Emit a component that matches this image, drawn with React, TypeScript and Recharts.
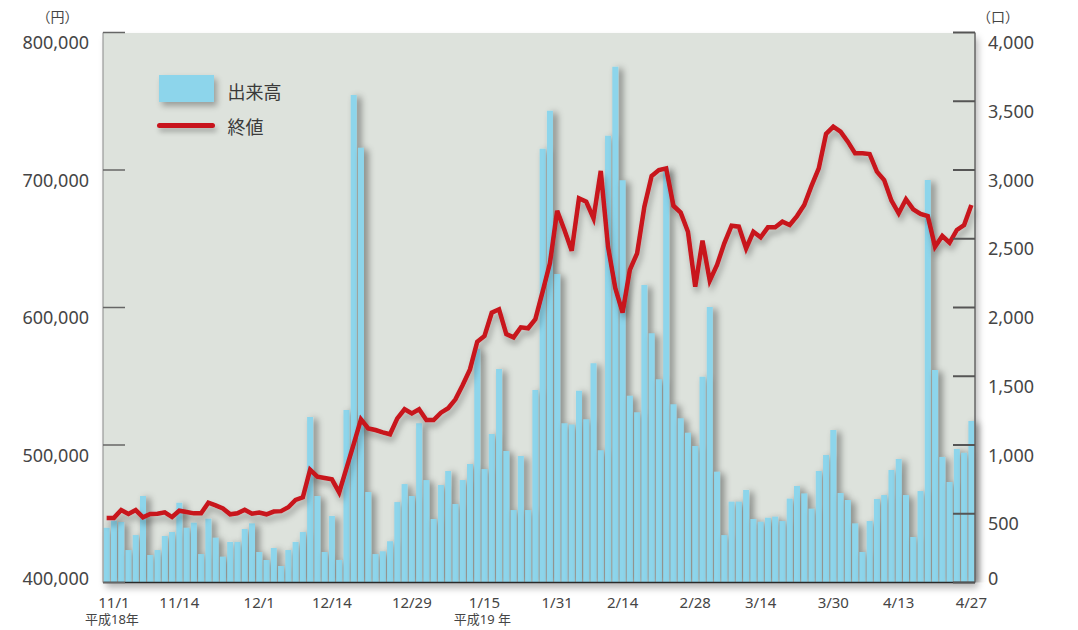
import React from 'react';
import { ComposedChart, Bar, Line, XAxis, YAxis } from 'recharts';

// 出来高（口） per trading day
const volume = [
  398, 449, 440, 236, 345, 629, 200, 236, 338, 367,
  580, 398, 435, 207, 464, 326, 188, 295, 295, 389,
  430, 222, 164, 251, 120, 236, 295, 367, 1204, 629,
  222, 484, 164, 1255, 3545, 3162, 658, 207, 227, 300,
  585, 716, 629, 1158, 745, 462, 709, 811, 571, 745,
  862, 1698, 825, 1080, 1553, 956, 527, 920, 527, 1400,
  3155, 3431, 2244, 1158, 1150, 1395, 1187, 1594, 961, 3250,
  3751, 2925, 1359, 1238, 2164, 1812, 1478, 3019, 1296, 1194,
  1090, 993, 1497, 2004, 806, 345, 588, 588, 673, 462,
  442, 471, 479, 447, 610, 702, 648, 537, 811, 927,
  1109, 651, 600, 430, 222, 447, 607, 636, 818, 898,
  636, 331, 665, 2927, 1545, 913, 731, 971, 944, 1175,
];

// 終値（円） per trading day
const closePrice = [
  447000, 447000, 452700, 449800, 452700, 447400, 449800, 450000, 451000, 447600,
  452200, 451300, 450300, 450300, 458000, 456100, 453900, 449600, 450300, 452900,
  450000, 450800, 449600, 451600, 451900, 454700, 460000, 462000, 482000, 477000,
  476000, 475000, 465500, 483000, 500700, 518700, 512100, 510900, 509200, 507800,
  519400, 526000, 523000, 526000, 518200, 518200, 523500, 526700, 533200, 543600,
  555000, 575100, 579300, 596200, 598700, 580700, 578300, 585600, 584900, 591500,
  611500, 632100, 670400, 656400, 641300, 679400, 676900, 664900, 699300, 644200,
  614000, 596200, 627300, 639400, 673300, 695600, 700000, 701200, 674000, 669000,
  655100, 615100, 648600, 619500, 630900, 646700, 659500, 658800, 643000, 655100,
  651100, 658300, 658300, 662400, 660000, 666500, 674500, 688400, 701200, 726200,
  731500, 727900, 720600, 712100, 712100, 711600, 698800, 692700, 677700, 668500,
  678700, 671400, 668000, 666500, 644200, 652000, 647100, 656400, 660000, 674500,
];

// date labels on the horizontal axis and the trading day each one sits under
const dateLabels = ['11/1', '11/14', '12/1', '12/14', '12/29', '1/15', '1/31', '2/14', '2/28', '3/14', '3/30', '4/13', '4/27'];
const dateLabelDay = [1, 10, 21, 31, 42, 52, 62, 71, 81, 90, 100, 109, 119];
const eraLabels = ['平成18年', '平成19 年'];
const eraLabelDay = [1, 52];

const priceTicks = [400000, 500000, 600000, 700000, 800000];
const volumeTicks = [0, 500, 1000, 1500, 2000, 2500, 3000, 3500, 4000];

const rows = volume.map((v, i) => ({ day: i, volume: v, close: closePrice[i] }));

const W = 1070;
const H = 622;
const M = { top: 24.5, right: 15, bottom: 17.5, left: 15 };
const LEFT_W = 80;
const RIGHT_W = 88;
const X_H = 30;
const PLOT = {
  left: M.left + LEFT_W,
  top: M.top,
  width: W - M.left - M.right - LEFT_W - RIGHT_W,
  height: H - M.top - M.bottom - X_H,
};

const FONT = "'Noto Sans', 'Noto Sans CJK JP', sans-serif";
const TEXT = '#454545';
const BAR = '#8dd5eb';
const RED = '#c8141d';
const PLOT_BG = '#dde2dc';

const fmt = (v: number) => v.toLocaleString('en-US');

// value labels sit just under their tick; the lowest one is lifted to stay beside the axis
const labelShift = (value: number, lowest: number) => (value === lowest ? -4.5 : 9.5);

const LeftTick = (p: any) => (
  <text x={p.x} y={p.y + labelShift(p.payload.value, priceTicks[0])} textAnchor="end"
    dominantBaseline="central" fontFamily={FONT} fontSize={18} fill={TEXT}>
    {fmt(p.payload.value)}
  </text>
);

const RightTick = (p: any) => (
  <text x={p.x} y={p.y + labelShift(p.payload.value, volumeTicks[0])} textAnchor="start"
    dominantBaseline="central" fontFamily={FONT} fontSize={18} fill={TEXT}>
    {fmt(p.payload.value)}
  </text>
);

const DateTick = (p: any) => {
  const k = dateLabelDay.indexOf(p.payload.value);
  const e = eraLabelDay.indexOf(p.payload.value);
  if (k < 0) return <g />;
  return (
    <g>
      <text x={p.x} y={p.y + 19} textAnchor="middle" dominantBaseline="central"
        fontFamily={FONT} fontSize={15} fill={TEXT}>
        {dateLabels[k]}
      </text>
      {e >= 0 && (
        <text x={p.x - 2} y={p.y + 36.5} textAnchor="middle" dominantBaseline="central"
          fontFamily={FONT} fontSize={13} fill={TEXT}>
          {eraLabels[e]}
        </text>
      )}
    </g>
  );
};

export default function App() {
  return (
    <div style={{ position: 'relative', width: W, height: H, fontFamily: FONT }}>
      {/* plot panel with its soft drop shadow */}
      <div
        style={{
          position: 'absolute',
          left: PLOT.left,
          top: PLOT.top,
          width: PLOT.width,
          height: PLOT.height,
          background: PLOT_BG,
          boxShadow: '3px 5px 7px rgba(0,0,0,0.28)',
        }}
      />
      <ComposedChart width={W} height={H} data={rows} margin={M} barCategoryGap="9%">
        <defs>
          <filter id="barShade" filterUnits="userSpaceOnUse" x="0" y="0" width={W} height={H}>
            <feDropShadow dx="4" dy="2" stdDeviation="3.5" floodColor="#000" floodOpacity="0.45" />
          </filter>
          <filter id="lineShade" filterUnits="userSpaceOnUse" x="0" y="0" width={W} height={H}>
            <feDropShadow dx="2" dy="5" stdDeviation="3" floodColor="#000" floodOpacity="0.3" />
          </filter>
        </defs>
        <XAxis
          dataKey="day"
          height={X_H}
          interval={0}
          tickLine={false}
          tickSize={0}
          tickMargin={0}
          axisLine={{ stroke: '#2a2a2a', strokeWidth: 1.5 }}
          tick={<DateTick />}
        />
        <YAxis
          yAxisId="price"
          orientation="left"
          width={LEFT_W}
          domain={[400000, 800000]}
          ticks={priceTicks}
          allowDataOverflow
          tickSize={-22}
          tickMargin={36}
          axisLine={{ stroke: '#8a8a8a', strokeWidth: 1 }}
          tickLine={{ stroke: '#666', strokeWidth: 1.5 }}
          tick={<LeftTick />}
        />
        <YAxis
          yAxisId="volume"
          orientation="right"
          width={RIGHT_W}
          domain={[0, 4000]}
          ticks={volumeTicks}
          allowDataOverflow
          tickSize={-22}
          tickMargin={35}
          axisLine={{ stroke: '#666', strokeWidth: 1.5 }}
          tickLine={{ stroke: '#555', strokeWidth: 2 }}
          tick={<RightTick />}
        />
        <Bar
          yAxisId="volume"
          dataKey="volume"
          name="出来高"
          fill={BAR}
          filter="url(#barShade)"
          isAnimationActive={false}
        />
        <Line
          yAxisId="price"
          dataKey="close"
          name="終値"
          type="linear"
          stroke={RED}
          strokeWidth={4.5}
          dot={false}
          activeDot={false}
          filter="url(#lineShade)"
          isAnimationActive={false}
        />
      </ComposedChart>

      {/* axis units */}
      <div style={{ position: 'absolute', left: 0, width: 99, top: 0, textAlign: 'center', fontSize: 14, color: TEXT, lineHeight: '17px' }}>
        （円）
      </div>
      <div style={{ position: 'absolute', left: 955, width: 70, top: 0, textAlign: 'center', fontSize: 14, color: TEXT, lineHeight: '17px' }}>
        （口）
      </div>

      {/* legend */}
      <div style={{ position: 'absolute', left: 150.7, top: 67, width: 55, height: 27, background: BAR, boxShadow: '3px 4px 6px rgba(0,0,0,0.3)' }} />
      <div style={{ position: 'absolute', left: 219.5, top: 72, fontSize: 18, lineHeight: '24px', color: '#3a3a3a' }}>出来高</div>
      <div style={{ position: 'absolute', left: 148.7, top: 115.2, width: 58.3, height: 5, borderRadius: 3, background: RED, boxShadow: '2px 4px 5px rgba(0,0,0,0.25)' }} />
      <div style={{ position: 'absolute', left: 219.5, top: 106.5, fontSize: 18, lineHeight: '24px', color: '#3a3a3a' }}>終値</div>
    </div>
  );
}
